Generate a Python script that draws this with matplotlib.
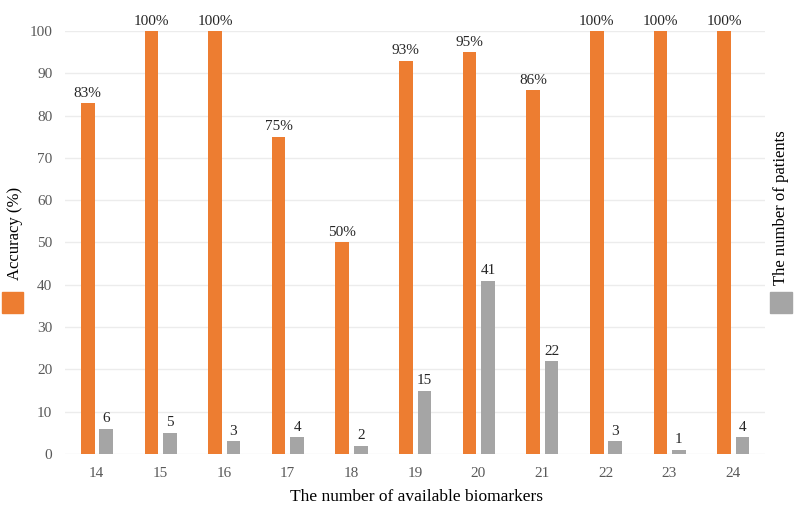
import matplotlib
matplotlib.use("Agg")
from matplotlib import pyplot as plt
from matplotlib.patches import Rectangle
import numpy as np

# data
biomarkers = [14, 15, 16, 17, 18, 19, 20, 21, 22, 23, 24]
accuracy = [83, 100, 100, 75, 50, 93, 95, 86, 100, 100, 100]
patients = [6, 5, 3, 4, 2, 15, 41, 22, 3, 1, 4]

orange = "#ed7d31"
grey = "#a5a5a5"

plt.rcParams["font.family"] = ["Liberation Serif", "DejaVu Serif"]

fig = plt.figure(figsize=(8, 5.13), dpi=100)
ax = fig.add_axes([0.081, 0.115, 0.875, 0.8246])

x = np.arange(len(biomarkers))
w = 0.215
ax.bar(x - 0.14, accuracy, w, color=orange, zorder=3)
ax.bar(x + 0.15, patients, w, color=grey, zorder=3)

# value labels on top of the bars
for xi, a, p in zip(x, accuracy, patients):
    ax.text(xi - 0.14, a + 0.8, f"{a}%", ha="center", va="bottom",
            fontsize=11, color="#262626")
    ax.text(xi + 0.15, p + 0.8, str(p), ha="center", va="bottom",
            fontsize=11, color="#262626")

ax.set_xlim(-0.5, len(biomarkers) - 0.5)
ax.set_ylim(0, 100)
ax.set_yticks(range(0, 101, 10))
ax.set_xticks(x)
ax.set_xticklabels([str(b) for b in biomarkers])
ax.tick_params(length=0, labelsize=11, labelcolor="#595959")
ax.tick_params(axis="x", pad=9)
ax.tick_params(axis="y", pad=9)
ax.grid(axis="y", color="#ececec", linewidth=1, zorder=0)
for s in ax.spines.values():
    s.set_visible(False)

fig.text(0.52, 0.031, "The number of available biomarkers", ha="center",
         va="center", fontsize=12.5, color="black")

# side labels with colour keys
fig.text(0.019, 0.454, "Accuracy (%)", rotation=90, ha="center", va="bottom",
         fontsize=12, color="black")
fig.patches.append(Rectangle((0.003, 0.39), 0.026, 0.041, color=orange,
                             transform=fig.transFigure, figure=fig))
fig.text(0.976, 0.444, "The number of patients", rotation=90, ha="center",
         va="bottom", fontsize=12, color="black")
fig.patches.append(Rectangle((0.963, 0.39), 0.027, 0.041, color=grey,
                             transform=fig.transFigure, figure=fig))

fig.savefig("out.png", dpi=100)
